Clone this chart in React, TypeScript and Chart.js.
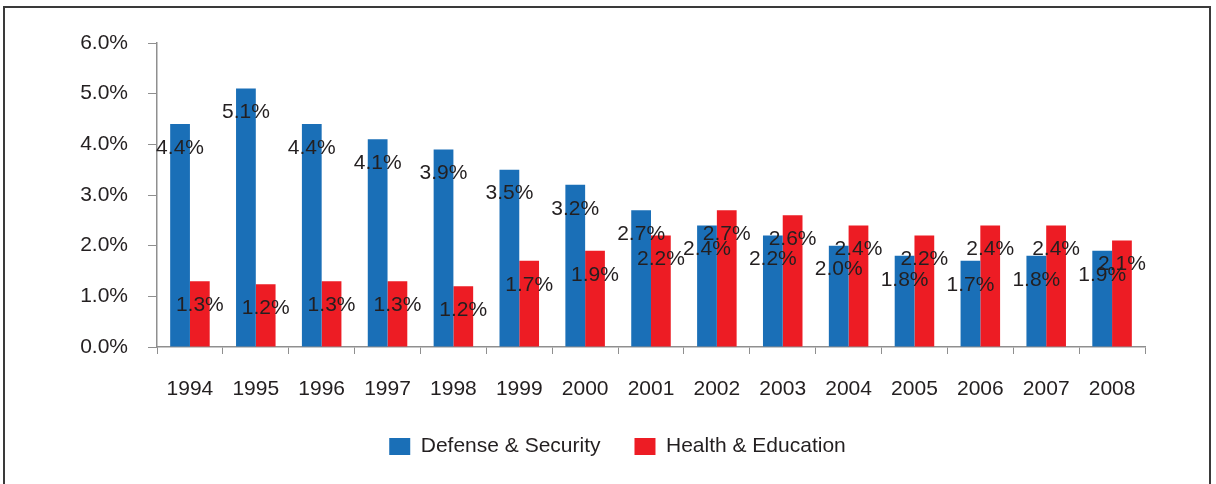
import React, { useEffect, useRef } from "react";
import { Chart, registerables } from "chart.js";

Chart.register(...registerables);

const years = ["1994", "1995", "1996", "1997", "1998", "1999", "2000", "2001", "2002", "2003", "2004", "2005", "2006", "2007", "2008"];
const defenseSecurity = [4.4, 5.1, 4.4, 4.1, 3.9, 3.5, 3.2, 2.7, 2.4, 2.2, 2.0, 1.8, 1.7, 1.8, 1.9];
const healthEducation = [1.3, 1.24, 1.3, 1.3, 1.2, 1.7, 1.9, 2.2, 2.7, 2.6, 2.4, 2.2, 2.4, 2.4, 2.1];
const yTicks = [0, 1, 2, 3, 4, 5, 6];

const FONT = "'Liberation Sans', Arial, sans-serif";
const FS = 21;
const TEXT = "#231f20";
const AXIS = "#8f8f8f";

const valueLabels = {
  id: "valueLabels",
  afterDatasetsDraw(chart: any) {
    const ctx = chart.ctx;
    ctx.save();
    ctx.font = `${FS}px ${FONT}`;
    ctx.fillStyle = TEXT;
    ctx.textAlign = "center";
    ctx.textBaseline = "middle";
    chart.data.datasets.forEach((ds: any, di: number) => {
      const meta = chart.getDatasetMeta(di);
      meta.data.forEach((el: any, i: number) => {
        const v = ds.data[i] as number;
        ctx.fillText(v.toFixed(1) + "%", el.x, el.y + 24);
      });
    });
    ctx.restore();
  },
};

const legendShift = {
  id: "legendShift",
  afterLayout(chart: any) {
    const lg = chart.legend;
    if (lg) {
      lg.left += 15;
      lg.right += 15;
    }
  },
};

export default function App() {
  const ref = useRef<HTMLCanvasElement | null>(null);
  useEffect(() => {
    if (!ref.current) return;
    const chart = new Chart(ref.current, {
      type: "bar",
      data: {
        labels: years,
        datasets: [
          { label: "Defense & Security", data: defenseSecurity, backgroundColor: "#1a6fb7", categoryPercentage: 0.6, barPercentage: 1.0 },
          { label: "Health & Education", data: healthEducation, backgroundColor: "#ed1c24", categoryPercentage: 0.6, barPercentage: 1.0 },
        ],
      },
      options: {
        animation: false,
        responsive: false,
        layout: { padding: { left: 60, right: 71, top: 43, bottom: 17 } },
        plugins: {
          tooltip: { enabled: false },
          legend: {
            position: "bottom",
            labels: {
              boxWidth: 21,
              boxHeight: 17,
              padding: 34,
              color: TEXT,
              font: { family: FONT, size: FS },
            },
          },
        },
        scales: {
          x: {
            grid: { display: true, drawOnChartArea: false, drawTicks: true, tickLength: 7, color: AXIS, offset: true },
            border: { display: true, color: AXIS, width: 1.5 },
            ticks: { color: TEXT, font: { family: FONT, size: FS }, padding: 23, maxRotation: 0 },
            afterFit(scale: any) { scale.height = 55; },
          },
          y: {
            min: 0,
            max: 6,
            afterBuildTicks(scale: any) { scale.ticks = yTicks.map((v) => ({ value: v })); },
            grid: { display: true, drawOnChartArea: false, drawTicks: true, tickLength: 9, color: AXIS },
            border: { display: true, color: AXIS, width: 1.5 },
            ticks: {
              color: TEXT,
              font: { family: FONT, size: FS },
              padding: 20,
              callback: (v: any) => Number(v).toFixed(1) + "%",
            },
            afterFit(scale: any) { scale.width = 97; },
          },
        },
      },
      plugins: [valueLabels, legendShift],
    });
    return () => chart.destroy();
  }, []);

  return (
    <div style={{ position: "absolute", left: 0, top: 0, width: 1216, height: 484, overflow: "hidden", background: "#fff" }}>
      <div style={{ position: "absolute", left: 3, top: 6, width: 1208, height: 500, border: "2px solid #3a3a3a", boxSizing: "border-box" }} />
      <canvas ref={ref} width={1216} height={484} style={{ position: "absolute", left: 0, top: 0, width: 1216, height: 484 }} />
    </div>
  );
}
